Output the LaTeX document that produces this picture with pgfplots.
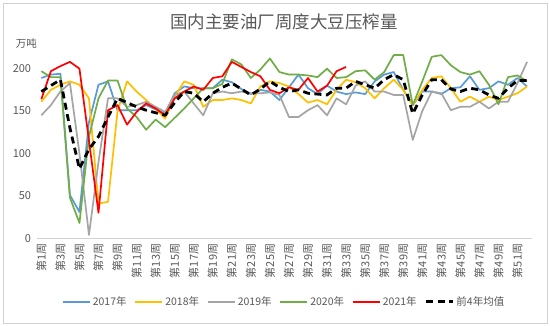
\documentclass[border=0pt]{standalone}
\usepackage{fontspec}
\setmainfont{Noto Sans CJK SC}
\usepackage{pgfplots}
\pgfplotsset{compat=1.18}
\definecolor{txtgray}{HTML}{595959}
\definecolor{c17}{HTML}{5B9BD5}
\definecolor{c18}{HTML}{FFC000}
\definecolor{c19}{HTML}{A5A5A5}
\definecolor{c20}{HTML}{70AD47}
\definecolor{c21}{HTML}{FF0000}
\begin{document}
\begin{tikzpicture}
\fill[white] (0pt,0pt) rectangle (550pt,326pt);
\draw[black!18, line width=0.8pt] (3pt,3pt) rectangle (547pt,323pt);
\node[text=txtgray, font=\fontsize{17.5}{20}\selectfont] at (284pt,304pt) {国内主要油厂周度大豆压榨量};
\node[text=txtgray, font=\fontsize{10.5}{12}\selectfont] at (26.5pt,282pt) {万吨};
\begin{axis}[
  at={(36.6pt,87.7pt)}, anchor=south west,
  scale only axis, width=495.2pt, height=186.6pt,
  xmin=0.5, xmax=52.5, ymin=0, ymax=220,
  axis x line*=bottom, axis y line*=left,
  x axis line style={draw=black!18, line width=0.8pt},
  y axis line style={draw=none},
  major tick length=0,
  ytick={0,50,100,150,200},
  /pgf/number format/assume math mode=true,
  yticklabel style={font=\fontsize{11}{12}\selectfont, text=txtgray, xshift=-2pt},
  xtick={1,3,...,51},
  xticklabels={第1周,第3周,第5周,第7周,第9周,第11周,第13周,第15周,第17周,第19周,第21周,第23周,第25周,第27周,第29周,第31周,第33周,第35周,第37周,第39周,第41周,第43周,第45周,第47周,第49周,第51周},
  xticklabel style={rotate=90, anchor=east, font=\fontsize{11}{12}\selectfont, text=txtgray, xshift=-2pt},
  legend columns=6,
  legend style={at={(0.5,-0.34)}, anchor=center, draw=none, fill=none,
    font=\fontsize{10.5}{12}\selectfont, text=txtgray,
    /tikz/every even column/.append style={column sep=6pt}},
  legend image code/.code={\draw[#1] (0pt,0pt) -- (27pt,0pt);},
  every axis plot/.append style={line width=1.7pt, line join=round},
  clip=false,
]
\addplot[c17] coordinates {(1,189)(2,193)(3,194)(4,51)(5,31)(6,137)(7,181)(8,185)(9,151)(10,151)(11,151)(12,157)(13,152)(14,147)(15,171)(16,179)(17,177)(18,177)(19,177)(20,187)(21,184)(22,176)(23,170)(24,175)(25,173)(26,163)(27,178)(28,193)(29,177)(30,170)(31,180)(32,173)(33,170)(34,172)(35,170)(36,185)(37,193)(38,196)(39,175)(40,157)(41,173)(42,173)(43,170)(44,177)(45,178)(46,191)(47,175)(48,177)(49,185)(50,181)(51,189)(52,179)};
\addlegendentry{2017年}
\addplot[c18] coordinates {(1,161)(2,175)(3,181)(4,185)(5,181)(6,165)(7,41)(8,43)(9,150)(10,185)(11,173)(12,163)(13,153)(14,141)(15,167)(16,185)(17,181)(18,155)(19,163)(20,163)(21,165)(22,163)(23,159)(24,179)(25,185)(26,183)(27,179)(28,170)(29,160)(30,163)(31,158)(32,175)(33,187)(34,184)(35,177)(36,165)(37,177)(38,187)(39,175)(40,157)(41,175)(42,189)(43,191)(44,177)(45,161)(46,167)(47,161)(48,167)(49,163)(50,167)(51,171)(52,179)};
\addlegendentry{2018年}
\addplot[c19] coordinates {(1,145)(2,157)(3,173)(4,183)(5,100)(6,4)(7,90)(8,165)(9,165)(10,155)(11,157)(12,161)(13,155)(14,149)(15,169)(16,173)(17,159)(18,145)(19,171)(20,173)(21,171)(22,173)(23,171)(24,171)(25,172)(26,169)(27,143)(28,143)(29,151)(30,157)(31,145)(32,165)(33,158)(34,180)(35,185)(36,173)(37,173)(38,169)(39,169)(40,116)(41,150)(42,173)(43,171)(44,151)(45,155)(46,155)(47,161)(48,153)(49,161)(50,161)(51,183)(52,208)};
\addlegendentry{2019年}
\addplot[c20] coordinates {(1,197)(2,190)(3,190)(4,48)(5,18)(6,120)(7,165)(8,186)(9,186)(10,153)(11,143)(12,128)(13,140)(14,131)(15,142)(16,153)(17,165)(18,177)(19,177)(20,182)(21,211)(22,205)(23,189)(24,199)(25,212)(26,196)(27,193)(28,193)(29,192)(30,190)(31,200)(32,189)(33,190)(34,197)(35,198)(36,187)(37,196)(38,216)(39,216)(40,157)(41,185)(42,214)(43,216)(44,204)(45,196)(46,193)(47,197)(48,181)(49,158)(50,190)(51,192)(52,185)};
\addlegendentry{2020年}
\addplot[c21] coordinates {(1,164)(2,197)(3,203)(4,208)(5,200)(6,115)(7,30)(8,151)(9,157)(10,134)(11,149)(12,159)(13,153)(14,145)(15,165)(16,173)(17,179)(18,175)(19,189)(20,191)(21,208)(22,202)(23,196)(24,191)(25,175)(26,171)(27,178)(28,175)(29,189)(30,173)(31,180)(32,197)(33,202)};
\addlegendentry{2021年}
\addplot[black, line width=2.8pt, dash pattern=on 7pt off 4.5pt] coordinates {(1,173)(2,180)(3,187)(4,130)(5,82)(6,105)(7,120)(8,143)(9,165)(10,160)(11,155)(12,151)(13,148)(14,145)(15,160)(16,173)(17,171)(18,161)(19,171)(20,178)(21,183)(22,176)(23,169)(24,176)(25,185)(26,178)(27,173)(28,175)(29,171)(30,170)(31,169)(32,177)(33,177)(34,185)(35,181)(36,177)(37,187)(38,193)(39,187)(40,147)(41,169)(42,187)(43,187)(44,176)(45,173)(46,177)(47,175)(48,169)(49,165)(50,177)(51,186)(52,186)};
\addlegendentry{前4年均值}
\end{axis}
\end{tikzpicture}
\end{document}
